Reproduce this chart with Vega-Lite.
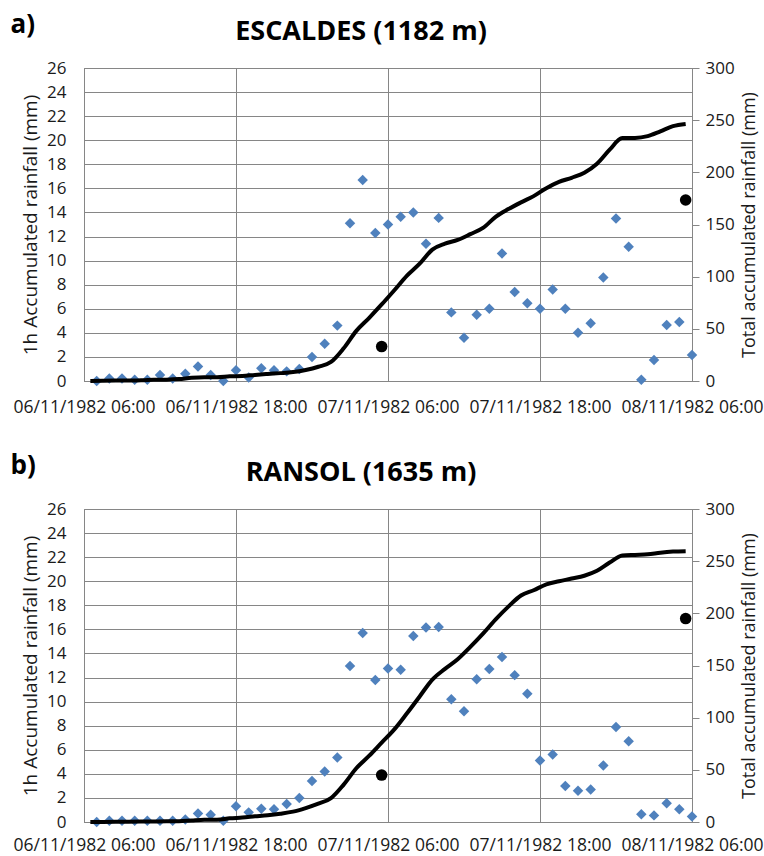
{
  "$schema": "https://vega.github.io/schema/vega-lite/v6.json",
  "background": "white",
  "padding": {"left": 10, "top": 11, "right": 0, "bottom": 0},
  "config": {
    "font": "Open Sans",
    "view": {"stroke": "#868686", "strokeWidth": 1},
    "axis": {"labelFont": "Open Sans", "labelFontSize": 17, "labelColor": "#1a1a1a", "titleFont": "Open Sans", "titleFontSize": 19, "titleFontWeight": "normal", "titleColor": "#1a1a1a", "gridColor": "#868686", "gridOpacity": 1, "gridWidth": 1, "domainColor": "#868686", "tickColor": "#868686"},
    "title": {"font": "Open Sans", "color": "#000000"}
  },
  "datasets": {
    "escaldes_hourly": [
      {"time": "1982-11-06T07:00", "rain_1h": 0}, {"time": "1982-11-06T08:00", "rain_1h": 0.2}, {"time": "1982-11-06T09:00", "rain_1h": 0.2}, {"time": "1982-11-06T10:00", "rain_1h": 0.1}, {"time": "1982-11-06T11:00", "rain_1h": 0.1}, {"time": "1982-11-06T12:00", "rain_1h": 0.5}, {"time": "1982-11-06T13:00", "rain_1h": 0.2}, {"time": "1982-11-06T14:00", "rain_1h": 0.6}, {"time": "1982-11-06T15:00", "rain_1h": 1.2}, {"time": "1982-11-06T16:00", "rain_1h": 0.5}, {"time": "1982-11-06T17:00", "rain_1h": 0}, {"time": "1982-11-06T18:00", "rain_1h": 0.9}, {"time": "1982-11-06T19:00", "rain_1h": 0.3}, {"time": "1982-11-06T20:00", "rain_1h": 1.05}, {"time": "1982-11-06T21:00", "rain_1h": 0.9}, {"time": "1982-11-06T22:00", "rain_1h": 0.8}, {"time": "1982-11-06T23:00", "rain_1h": 1.0},
      {"time": "1982-11-07T00:00", "rain_1h": 2.0}, {"time": "1982-11-07T01:00", "rain_1h": 3.1}, {"time": "1982-11-07T02:00", "rain_1h": 4.6}, {"time": "1982-11-07T03:00", "rain_1h": 13.1}, {"time": "1982-11-07T04:00", "rain_1h": 16.7}, {"time": "1982-11-07T05:00", "rain_1h": 12.3}, {"time": "1982-11-07T06:00", "rain_1h": 13.0}, {"time": "1982-11-07T07:00", "rain_1h": 13.65}, {"time": "1982-11-07T08:00", "rain_1h": 14.0}, {"time": "1982-11-07T09:00", "rain_1h": 11.4}, {"time": "1982-11-07T10:00", "rain_1h": 13.55}, {"time": "1982-11-07T11:00", "rain_1h": 5.7}, {"time": "1982-11-07T12:00", "rain_1h": 3.6}, {"time": "1982-11-07T13:00", "rain_1h": 5.5}, {"time": "1982-11-07T14:00", "rain_1h": 6.0}, {"time": "1982-11-07T15:00", "rain_1h": 10.6}, {"time": "1982-11-07T16:00", "rain_1h": 7.4}, {"time": "1982-11-07T17:00", "rain_1h": 6.45}, {"time": "1982-11-07T18:00", "rain_1h": 6.0}, {"time": "1982-11-07T19:00", "rain_1h": 7.6}, {"time": "1982-11-07T20:00", "rain_1h": 6.0}, {"time": "1982-11-07T21:00", "rain_1h": 4.0}, {"time": "1982-11-07T22:00", "rain_1h": 4.8}, {"time": "1982-11-07T23:00", "rain_1h": 8.6},
      {"time": "1982-11-08T00:00", "rain_1h": 13.5}, {"time": "1982-11-08T01:00", "rain_1h": 11.15}, {"time": "1982-11-08T02:00", "rain_1h": 0.1}, {"time": "1982-11-08T03:00", "rain_1h": 1.75}, {"time": "1982-11-08T04:00", "rain_1h": 4.65}, {"time": "1982-11-08T05:00", "rain_1h": 4.9}, {"time": "1982-11-08T06:00", "rain_1h": 2.15}
    ],
    "escaldes_total": [
      {"time": "1982-11-06T06:30", "total": 0}, {"time": "1982-11-06T07:30", "total": 0.2}, {"time": "1982-11-06T08:30", "total": 0.4}, {"time": "1982-11-06T09:30", "total": 0.5}, {"time": "1982-11-06T10:30", "total": 0.6}, {"time": "1982-11-06T11:30", "total": 1.1}, {"time": "1982-11-06T12:30", "total": 1.3}, {"time": "1982-11-06T13:30", "total": 1.9}, {"time": "1982-11-06T14:30", "total": 3.1}, {"time": "1982-11-06T15:30", "total": 3.6}, {"time": "1982-11-06T16:30", "total": 3.6}, {"time": "1982-11-06T17:30", "total": 4.5}, {"time": "1982-11-06T18:30", "total": 4.8}, {"time": "1982-11-06T19:30", "total": 5.85}, {"time": "1982-11-06T20:30", "total": 6.75}, {"time": "1982-11-06T21:30", "total": 7.55}, {"time": "1982-11-06T22:30", "total": 8.55}, {"time": "1982-11-06T23:30", "total": 10.55},
      {"time": "1982-11-07T00:30", "total": 13.65}, {"time": "1982-11-07T01:30", "total": 18.25}, {"time": "1982-11-07T02:30", "total": 31.35}, {"time": "1982-11-07T03:30", "total": 48.05}, {"time": "1982-11-07T04:30", "total": 60.35}, {"time": "1982-11-07T05:30", "total": 73.35}, {"time": "1982-11-07T06:30", "total": 87.0}, {"time": "1982-11-07T07:30", "total": 101.0}, {"time": "1982-11-07T08:30", "total": 112.4}, {"time": "1982-11-07T09:30", "total": 125.95}, {"time": "1982-11-07T10:30", "total": 131.65}, {"time": "1982-11-07T11:30", "total": 135.25}, {"time": "1982-11-07T12:30", "total": 140.75}, {"time": "1982-11-07T13:30", "total": 146.75}, {"time": "1982-11-07T14:30", "total": 157.35}, {"time": "1982-11-07T15:30", "total": 164.75}, {"time": "1982-11-07T16:30", "total": 171.2}, {"time": "1982-11-07T17:30", "total": 177.2}, {"time": "1982-11-07T18:30", "total": 184.8}, {"time": "1982-11-07T19:30", "total": 190.8}, {"time": "1982-11-07T20:30", "total": 194.8}, {"time": "1982-11-07T21:30", "total": 199.6}, {"time": "1982-11-07T22:30", "total": 208.2}, {"time": "1982-11-07T23:30", "total": 221.7},
      {"time": "1982-11-08T00:30", "total": 232.85}, {"time": "1982-11-08T01:30", "total": 232.95}, {"time": "1982-11-08T02:30", "total": 234.7}, {"time": "1982-11-08T03:30", "total": 239.35}, {"time": "1982-11-08T04:30", "total": 244.25}, {"time": "1982-11-08T05:30", "total": 246.4}
    ],
    "escaldes_daily": [
      {"time": "1982-11-07T05:30", "total": 33}, {"time": "1982-11-08T05:30", "total": 173.5}
    ],
    "ransol_hourly": [
      {"time": "1982-11-06T07:00", "rain_1h": 0}, {"time": "1982-11-06T08:00", "rain_1h": 0.1}, {"time": "1982-11-06T09:00", "rain_1h": 0.1}, {"time": "1982-11-06T10:00", "rain_1h": 0.1}, {"time": "1982-11-06T11:00", "rain_1h": 0.1}, {"time": "1982-11-06T12:00", "rain_1h": 0.1}, {"time": "1982-11-06T13:00", "rain_1h": 0.1}, {"time": "1982-11-06T14:00", "rain_1h": 0.2}, {"time": "1982-11-06T15:00", "rain_1h": 0.7}, {"time": "1982-11-06T16:00", "rain_1h": 0.6}, {"time": "1982-11-06T17:00", "rain_1h": 0.1}, {"time": "1982-11-06T18:00", "rain_1h": 1.3}, {"time": "1982-11-06T19:00", "rain_1h": 0.8}, {"time": "1982-11-06T20:00", "rain_1h": 1.1}, {"time": "1982-11-06T21:00", "rain_1h": 1.05}, {"time": "1982-11-06T22:00", "rain_1h": 1.5}, {"time": "1982-11-06T23:00", "rain_1h": 2.0},
      {"time": "1982-11-07T00:00", "rain_1h": 3.4}, {"time": "1982-11-07T01:00", "rain_1h": 4.2}, {"time": "1982-11-07T02:00", "rain_1h": 5.35}, {"time": "1982-11-07T03:00", "rain_1h": 12.95}, {"time": "1982-11-07T04:00", "rain_1h": 15.7}, {"time": "1982-11-07T05:00", "rain_1h": 11.8}, {"time": "1982-11-07T06:00", "rain_1h": 12.75}, {"time": "1982-11-07T07:00", "rain_1h": 12.65}, {"time": "1982-11-07T08:00", "rain_1h": 15.45}, {"time": "1982-11-07T09:00", "rain_1h": 16.15}, {"time": "1982-11-07T10:00", "rain_1h": 16.2}, {"time": "1982-11-07T11:00", "rain_1h": 10.2}, {"time": "1982-11-07T12:00", "rain_1h": 9.2}, {"time": "1982-11-07T13:00", "rain_1h": 11.85}, {"time": "1982-11-07T14:00", "rain_1h": 12.7}, {"time": "1982-11-07T15:00", "rain_1h": 13.7}, {"time": "1982-11-07T16:00", "rain_1h": 12.2}, {"time": "1982-11-07T17:00", "rain_1h": 10.65}, {"time": "1982-11-07T18:00", "rain_1h": 5.1}, {"time": "1982-11-07T19:00", "rain_1h": 5.6}, {"time": "1982-11-07T20:00", "rain_1h": 3.0}, {"time": "1982-11-07T21:00", "rain_1h": 2.6}, {"time": "1982-11-07T22:00", "rain_1h": 2.7}, {"time": "1982-11-07T23:00", "rain_1h": 4.7},
      {"time": "1982-11-08T00:00", "rain_1h": 7.9}, {"time": "1982-11-08T01:00", "rain_1h": 6.7}, {"time": "1982-11-08T02:00", "rain_1h": 0.65}, {"time": "1982-11-08T03:00", "rain_1h": 0.55}, {"time": "1982-11-08T04:00", "rain_1h": 1.55}, {"time": "1982-11-08T05:00", "rain_1h": 1.05}, {"time": "1982-11-08T06:00", "rain_1h": 0.45}
    ],
    "ransol_total": [
      {"time": "1982-11-06T06:30", "total": 0}, {"time": "1982-11-06T07:30", "total": 0.1}, {"time": "1982-11-06T08:30", "total": 0.2}, {"time": "1982-11-06T09:30", "total": 0.3}, {"time": "1982-11-06T10:30", "total": 0.4}, {"time": "1982-11-06T11:30", "total": 0.5}, {"time": "1982-11-06T12:30", "total": 0.6}, {"time": "1982-11-06T13:30", "total": 0.8}, {"time": "1982-11-06T14:30", "total": 1.5}, {"time": "1982-11-06T15:30", "total": 2.1}, {"time": "1982-11-06T16:30", "total": 2.2}, {"time": "1982-11-06T17:30", "total": 3.5}, {"time": "1982-11-06T18:30", "total": 4.3}, {"time": "1982-11-06T19:30", "total": 5.4}, {"time": "1982-11-06T20:30", "total": 6.45}, {"time": "1982-11-06T21:30", "total": 7.95}, {"time": "1982-11-06T22:30", "total": 9.95}, {"time": "1982-11-06T23:30", "total": 13.35},
      {"time": "1982-11-07T00:30", "total": 17.55}, {"time": "1982-11-07T01:30", "total": 22.9}, {"time": "1982-11-07T02:30", "total": 35.85}, {"time": "1982-11-07T03:30", "total": 51.55}, {"time": "1982-11-07T04:30", "total": 63.35}, {"time": "1982-11-07T05:30", "total": 76.1}, {"time": "1982-11-07T06:30", "total": 88.75}, {"time": "1982-11-07T07:30", "total": 104.2}, {"time": "1982-11-07T08:30", "total": 120.35}, {"time": "1982-11-07T09:30", "total": 136.55}, {"time": "1982-11-07T10:30", "total": 146.75}, {"time": "1982-11-07T11:30", "total": 155.95}, {"time": "1982-11-07T12:30", "total": 167.8}, {"time": "1982-11-07T13:30", "total": 180.5}, {"time": "1982-11-07T14:30", "total": 194.2}, {"time": "1982-11-07T15:30", "total": 206.4}, {"time": "1982-11-07T16:30", "total": 217.05}, {"time": "1982-11-07T17:30", "total": 222.15}, {"time": "1982-11-07T18:30", "total": 227.75}, {"time": "1982-11-07T19:30", "total": 230.75}, {"time": "1982-11-07T20:30", "total": 233.35}, {"time": "1982-11-07T21:30", "total": 236.05}, {"time": "1982-11-07T22:30", "total": 240.75}, {"time": "1982-11-07T23:30", "total": 248.65},
      {"time": "1982-11-08T00:30", "total": 255.35}, {"time": "1982-11-08T01:30", "total": 256.0}, {"time": "1982-11-08T02:30", "total": 256.55}, {"time": "1982-11-08T03:30", "total": 258.1}, {"time": "1982-11-08T04:30", "total": 259.15}, {"time": "1982-11-08T05:30", "total": 259.6}
    ],
    "ransol_daily": [
      {"time": "1982-11-07T05:30", "total": 45}, {"time": "1982-11-08T05:30", "total": 195}
    ]
  },
  "spacing": 36,
  "vconcat": [
    {
      "title": {"text": "a)", "anchor": "start", "frame": "bounds", "fontSize": 26, "fontWeight": "bold", "offset": -20, "dx": -2},
      "vconcat": [
        {
          "width": 608,
          "height": 313,
          "title": {"text": "ESCALDES (1182 m)", "fontSize": 27, "fontWeight": "bold", "dx": -27, "offset": 13, "anchor": "middle"},
          "layer": [
            {
              "data": {"name": "escaldes_hourly"},
              "mark": {"type": "point", "shape": "diamond", "filled": true, "size": 110, "color": "#4F81BD", "opacity": 1},
              "encoding": {
                "x": {"field": "time", "type": "temporal", "title": null,
                  "scale": {"domain": [{"year": 1982, "month": 11, "date": 6, "hours": 6}, {"year": 1982, "month": 11, "date": 8, "hours": 6}]},
                  "axis": {"values": [{"year": 1982, "month": 11, "date": 6, "hours": 6}, {"year": 1982, "month": 11, "date": 6, "hours": 18}, {"year": 1982, "month": 11, "date": 7, "hours": 6}, {"year": 1982, "month": 11, "date": 7, "hours": 18}, {"year": 1982, "month": 11, "date": 8, "hours": 6}],
                    "format": "%d/%m/%Y %H:%M", "grid": true, "ticks": false, "labelFontSize": 17.5, "labelPadding": 17, "labelOverlap": false, "labelFlush": false, "labelBound": false}},
                "y": {"field": "rain_1h", "type": "quantitative",
                  "scale": {"domain": [0, 26], "nice": false},
                  "axis": {"title": "1h Accumulated rainfall (mm)", "values": [0, 2, 4, 6, 8, 10, 12, 14, 16, 18, 20, 22, 24, 26], "grid": true, "ticks": false, "labelPadding": 18, "titlePadding": 6}}
              }
            },
            {
              "layer": [
                {
                  "data": {"name": "escaldes_total"},
                  "mark": {"type": "line", "color": "#000000", "strokeWidth": 4, "interpolate": "monotone"},
                  "encoding": {
                    "x": {"field": "time", "type": "temporal"},
                    "y": {"field": "total", "type": "quantitative",
                      "scale": {"domain": [0, 300], "nice": false},
                      "axis": {"orient": "right", "title": "Total accumulated rainfall (mm)", "values": [0, 50, 100, 150, 200, 250, 300], "grid": false, "tickSize": 7, "labelPadding": 6, "titleAngle": -90, "titleBaseline": "top", "titleFontSize": 18, "titlePadding": 6}}
                  }
                },
                {
                  "data": {"name": "escaldes_daily"},
                  "mark": {"type": "circle", "size": 133, "color": "#000000", "opacity": 1},
                  "encoding": {
                    "x": {"field": "time", "type": "temporal"},
                    "y": {"field": "total", "type": "quantitative"}
                  }
                }
              ]
            }
          ],
          "resolve": {"scale": {"y": "independent"}}
        }
      ]
    },
    {
      "title": {"text": "b)", "anchor": "start", "frame": "bounds", "fontSize": 26, "fontWeight": "bold", "offset": -20, "dx": -2},
      "vconcat": [
        {
          "width": 608,
          "height": 313,
          "title": {"text": "RANSOL (1635 m)", "fontSize": 27, "fontWeight": "bold", "dx": -27, "offset": 13, "anchor": "middle"},
          "layer": [
            {
              "data": {"name": "ransol_hourly"},
              "mark": {"type": "point", "shape": "diamond", "filled": true, "size": 110, "color": "#4F81BD", "opacity": 1},
              "encoding": {
                "x": {"field": "time", "type": "temporal", "title": null,
                  "scale": {"domain": [{"year": 1982, "month": 11, "date": 6, "hours": 6}, {"year": 1982, "month": 11, "date": 8, "hours": 6}]},
                  "axis": {"values": [{"year": 1982, "month": 11, "date": 6, "hours": 6}, {"year": 1982, "month": 11, "date": 6, "hours": 18}, {"year": 1982, "month": 11, "date": 7, "hours": 6}, {"year": 1982, "month": 11, "date": 7, "hours": 18}, {"year": 1982, "month": 11, "date": 8, "hours": 6}],
                    "format": "%d/%m/%Y %H:%M", "grid": true, "ticks": false, "labelFontSize": 17.5, "labelPadding": 14, "labelOverlap": false, "labelFlush": false, "labelBound": false}},
                "y": {"field": "rain_1h", "type": "quantitative",
                  "scale": {"domain": [0, 26], "nice": false},
                  "axis": {"title": "1h Accumulated rainfall (mm)", "values": [0, 2, 4, 6, 8, 10, 12, 14, 16, 18, 20, 22, 24, 26], "grid": true, "ticks": false, "labelPadding": 18, "titlePadding": 6}}
              }
            },
            {
              "layer": [
                {
                  "data": {"name": "ransol_total"},
                  "mark": {"type": "line", "color": "#000000", "strokeWidth": 4, "interpolate": "monotone"},
                  "encoding": {
                    "x": {"field": "time", "type": "temporal"},
                    "y": {"field": "total", "type": "quantitative",
                      "scale": {"domain": [0, 300], "nice": false},
                      "axis": {"orient": "right", "title": "Total accumulated rainfall (mm)", "values": [0, 50, 100, 150, 200, 250, 300], "grid": false, "tickSize": 7, "labelPadding": 6, "titleAngle": -90, "titleBaseline": "top", "titleFontSize": 18, "titlePadding": 6}}
                  }
                },
                {
                  "data": {"name": "ransol_daily"},
                  "mark": {"type": "circle", "size": 133, "color": "#000000", "opacity": 1},
                  "encoding": {
                    "x": {"field": "time", "type": "temporal"},
                    "y": {"field": "total", "type": "quantitative"}
                  }
                }
              ]
            }
          ],
          "resolve": {"scale": {"y": "independent"}}
        }
      ]
    }
  ]
}
